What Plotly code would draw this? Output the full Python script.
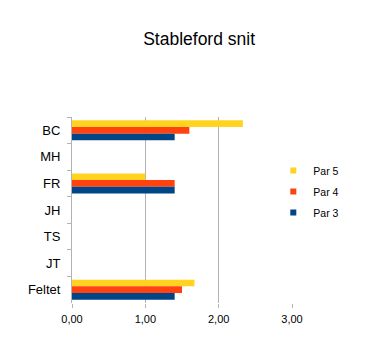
import plotly.graph_objects as go

categories = ["BC", "MH", "FR", "JH", "TS", "JT", "Feltet"]
series_names = ["Par 5", "Par 4", "Par 3"]
par5 = [2.33, None, 1.00, None, None, None, 1.67]
par4 = [1.60, None, 1.40, None, None, None, 1.50]
par3 = [1.40, None, 1.40, None, None, None, 1.40]
x_ticks = [0, 1, 2, 3]

colors = ["#FFD320", "#FF420E", "#004586"]
values = [par5, par4, par3]

fig = go.Figure()
for name, vals, c in zip(series_names, values, colors):
    fig.add_trace(go.Bar(
        y=categories, x=vals, name=name, orientation="h",
        marker=dict(color=c, line=dict(width=0)), showlegend=False,
    ))
for name, c in zip(series_names, colors):
    fig.add_trace(go.Scatter(
        x=[None], y=[None], mode="markers", name=name, legendgroup=name,
        marker=dict(symbol="square", size=6, color=c),
    ))

fig.update_layout(
    width=366, height=347,
    margin=dict(l=72, r=74, t=117, b=44),
    paper_bgcolor="white", plot_bgcolor="white",
    font=dict(family="Liberation Sans, Arial, sans-serif", color="#000000"),
    separators=",.",
    barmode="group", bargap=0.245, bargroupgap=0,
    title=dict(text="Stableford snit", font=dict(size=17.5), x=0.544, xanchor="center",
               y=1 - 39 / 347, yanchor="middle", yref="container"),
    showlegend=True,
    legend=dict(x=0.915, xanchor="left", y=0.6, yanchor="middle",
                font=dict(size=10.5), bgcolor="rgba(0,0,0,0)", itemwidth=30,
                tracegroupgap=2),
    xaxis=dict(range=[0, 3], tickvals=x_ticks, tickformat=".2f",
               showgrid=True, gridcolor="#b3b3b3", gridwidth=1,
               zeroline=False, showline=False,
               ticks="outside", ticklen=4, tickcolor="#b3b3b3",
               tickfont=dict(size=11), ticklabelstandoff=2),
    yaxis=dict(type="category", categoryorder="array", categoryarray=categories,
               autorange="reversed", showgrid=False, zeroline=False,
               showline=True, linecolor="#b3b3b3", linewidth=1,
               ticks="outside", ticklen=4, tickcolor="#b3b3b3", tickson="boundaries",
               tickfont=dict(size=13), ticklabelstandoff=8),
)

fig.write_html("out.html")
